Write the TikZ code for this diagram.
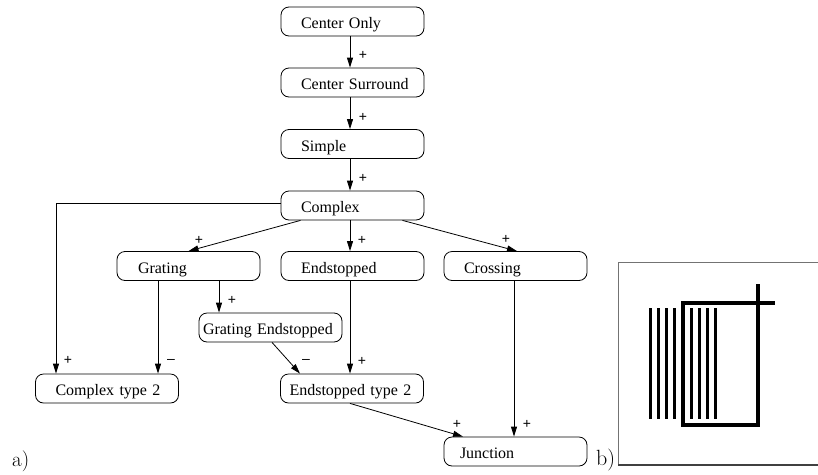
\documentclass[tikz,border=0pt]{standalone}
\usepackage{fontspec}
\setmainfont{Liberation Serif}
\newfontfamily\lblfont{Liberation Sans}
\newfontfamily\lmfont{Latin Modern Roman}
\usetikzlibrary{arrows.meta,calc}
\begin{document}
\begin{tikzpicture}[x=1pt,y=-1pt,
  box/.style={draw, line width=0.8pt, rounded corners=8pt, minimum width=143pt, minimum height=29pt,
    text width=143pt, inner xsep=0pt, inner ysep=0pt, align=left, text height=14pt, text depth=0pt,
    font=\fontsize{16}{18}\selectfont},
  conn/.style={line width=0.8pt, -{Triangle[length=10pt,width=6pt]}},
  lbl/.style={font=\lblfont\fontsize{14}{14}\selectfont, inner sep=0pt},
  frame/.style={draw=black!55, line width=0.6pt},
  bar/.style={line width=3.2pt},
  thick4/.style={line width=4pt}
]
\useasboundingbox (0,0) rectangle (818,474);

% nodes
\node[box] (co) at (352.5,21.5) {\hspace*{20pt}Center Only};
\node[box] (cs) at (352.5,82.5) {\hspace*{20pt}Center Surround};
\node[box] (si) at (352.5,144) {\hspace*{20pt}Simple};
\node[box] (cx) at (352.5,205.5) {\hspace*{20pt}Complex};
\node[box] (gr) at (188.5,266) {\hspace*{21pt}Grating};
\node[box] (es) at (352.5,266) {\hspace*{20pt}Endstopped};
\node[box] (cr) at (515.5,266) {\hspace*{20pt}Crossing};
\node[box] (ge) at (270.5,327.5) {\hspace*{4pt}Grating Endstopped};
\node[box] (c2) at (107,388.5) {\hspace*{20pt}Complex type 2};
\node[box] (e2) at (352,388.5) {\hspace*{9pt}Endstopped type 2};
\node[box] (ju) at (515.5,451.5) {\hspace*{16pt}Junction};

% connectors
\draw[conn] ([xshift=-2.5pt]co.south) -- ([xshift=-2.5pt]co.south |- cs.north);
\draw[conn] ([xshift=-2.5pt]cs.south) -- ([xshift=-2.5pt]cs.south |- si.north);
\draw[conn] ([xshift=-2.5pt]si.south) -- ([xshift=-2.5pt]si.south |- cx.north);
\draw[conn] ([xshift=-52pt]cx.south) -- (gr.north);
\draw[conn] ([xshift=-2.5pt]cx.south) -- ([xshift=-2.5pt]cx.south |- es.north);
\draw[conn] ([xshift=50pt]cx.south) -- ([xshift=1.5pt]cr.north);
\draw[conn] ([yshift=2.5pt]cx.west) -| ([xshift=-51pt]c2.north);
\draw[conn] ([xshift=-30.5pt]gr.south) -- ([xshift=-30.5pt]gr.south |- c2.north);
\draw[conn] ([xshift=30.5pt]gr.south) -- ([xshift=30.5pt]gr.south |- ge.north);
\draw[conn] ([xshift=1.5pt]ge.south) -- ([xshift=-52pt]e2.north);
\draw[conn] ([xshift=-2.5pt]es.south) -- ([xshift=-2.5pt]es.south |- e2.north);
\draw[conn] ([xshift=-2pt]e2.south) -- ([xshift=-52.5pt]ju.north);
\draw[conn] ([xshift=-1.5pt]cr.south) -- ([xshift=-1.5pt]cr.south |- ju.north);

% edge labels
\node[lbl] (l1) at (363,55) {+};
\node[lbl] (l2) at (363,117) {+};
\node[lbl] (l3) at (363,178) {+};
\node[lbl] (l4) at (199,240) {+};
\node[lbl] (l5) at (362,240) {+};
\node[lbl] (l6) at (506,239) {+};
\node[lbl] (l7) at (232,300) {+};
\node[lbl] (l8) at (68,360) {+};
\node[lbl] (l9) at (171,361) {\textendash};
\node[lbl] (l10) at (306,361) {\textendash};
\node[lbl] (l11) at (362,361) {+};
\node[lbl] (l12) at (457,424) {+};
\node[lbl] (l13) at (527,424) {+};

% panel labels
\node[font=\lmfont\fontsize{21}{21}\selectfont, anchor=base west, inner sep=0pt] (pa) at (12,466) {a)};
\node[font=\lmfont\fontsize{22}{22}\selectfont, anchor=base west, inner sep=0pt] (pb) at (596,465) {b)};

% panel b frame
\draw[frame] (818,262) -- (618,262) -- (618,465);
\draw[draw=black!75, line width=1.2pt] (618,465) -- (818,465);

% stripes
\foreach \sx in {650.8,658.5,666.2,674.2,691.3,699.2,707.2,715.2}
  \draw[bar] (\sx,308.3) -- (\sx,419);

% rectangle with crossing corner
\draw[thick4] (683,302.7) -- (757.7,302.7) -- (757.7,424.7) -- (683,424.7) -- cycle;
\draw[thick4] (757.7,302.7) -- (775,302.7);
\draw[thick4] (757.7,302.7) -- (757.7,284.3);
\end{tikzpicture}
\end{document}
